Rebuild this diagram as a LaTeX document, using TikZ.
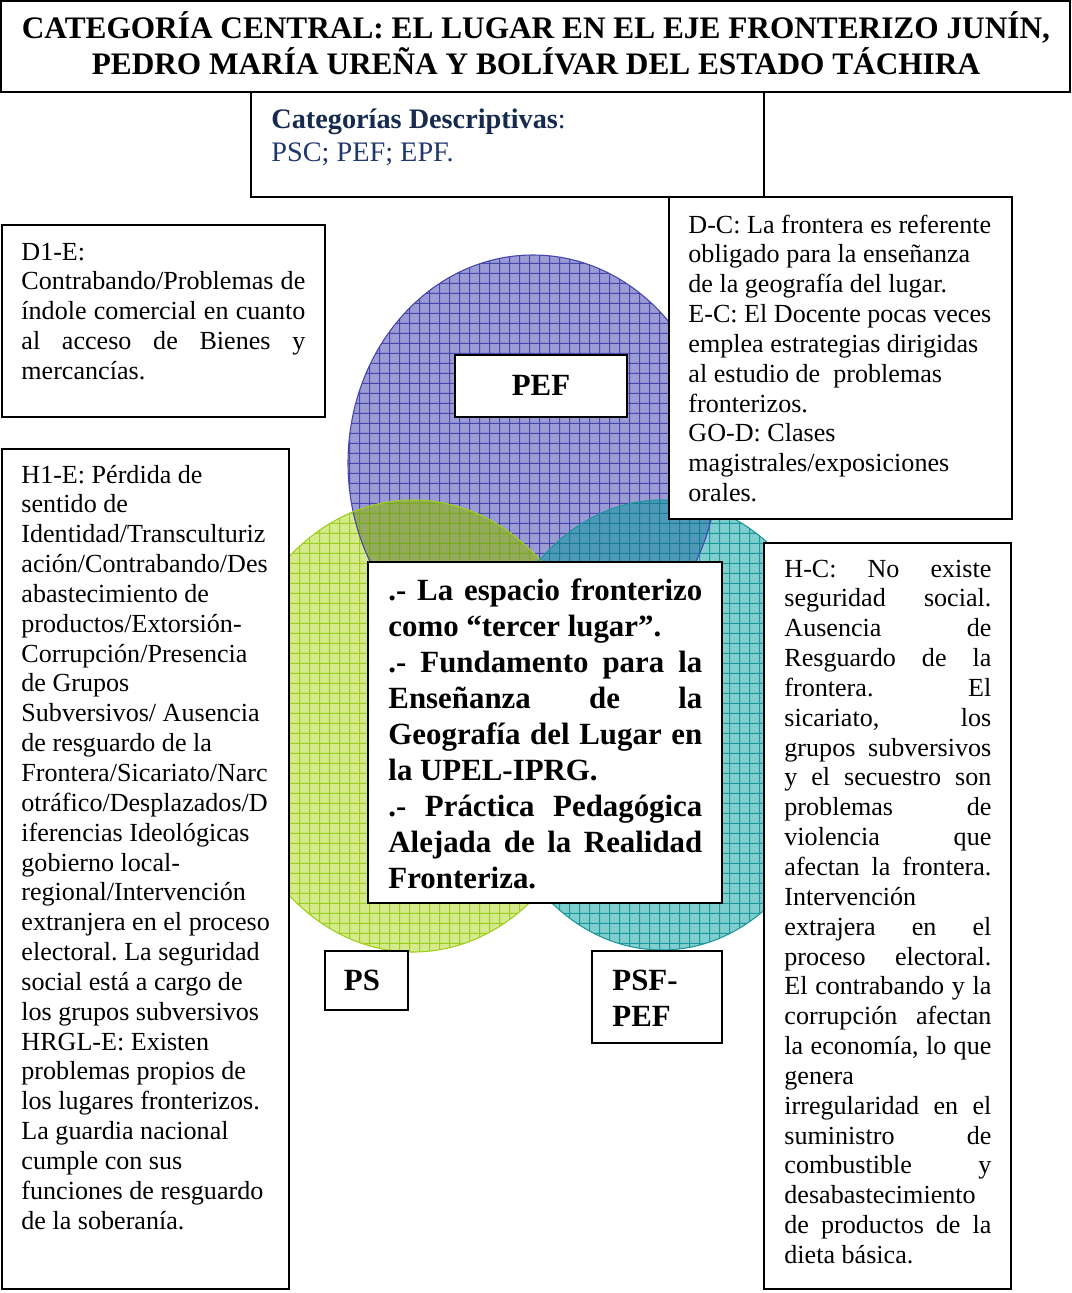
\documentclass[tikz,border=0pt]{standalone}
\usepackage{fontspec}
\setmainfont{Liberation Serif}
\usepackage{tikz}
\usetikzlibrary{patterns,fit}

% small grid used as fill of the circles
\pgfdeclarepatternformonly{wordgrid}{\pgfpointorigin}{\pgfqpoint{4.6pt}{4.6pt}}{\pgfqpoint{4.6pt}{4.6pt}}{%
  \pgfsetlinewidth{0.55pt}%
  \pgfpathmoveto{\pgfqpoint{0pt}{0.3pt}}\pgfpathlineto{\pgfqpoint{4.6pt}{0.3pt}}%
  \pgfpathmoveto{\pgfqpoint{0.3pt}{0pt}}\pgfpathlineto{\pgfqpoint{0.3pt}{4.6pt}}%
  \pgfusepath{stroke}}

\definecolor{pefblue}{RGB}{156,156,212}
\definecolor{pefline}{RGB}{70,70,172}
\definecolor{psgreen}{RGB}{212,234,140}
\definecolor{psline}{RGB}{158,206,32}
\definecolor{psfteal}{RGB}{128,206,206}
\definecolor{psfline}{RGB}{28,152,156}
\definecolor{olivemix}{RGB}{148,170,92}
\definecolor{oliveline}{RGB}{120,170,30}
\definecolor{tealmix}{RGB}{78,152,184}
\definecolor{tealmixline}{RGB}{24,124,150}
\definecolor{catnavy}{RGB}{23,43,80}
\definecolor{catblue}{RGB}{31,56,110}

\frenchspacing
\newcommand{\fixspaces}{\spaceskip=0pt\xspaceskip=0pt\relax}
\newcommand{\justline}[1]{{\fixspaces\makebox[\linewidth][s]{#1}}}

\tikzset{
    %Define style for boxes
    frame/.style={
           draw=black, line width=0.8pt,
           fill=white,
           inner sep=0pt},
    %Define style for texts
    body/.style={
           anchor=base west,
           inner sep=0pt,
           align=left,
           execute at begin node=\fixspaces,
           font=\fontsize{12}{13.73}\selectfont},
    central/.style={
           body,
           font=\bfseries\fontsize{14.2}{16.56}\selectfont},
    tagtext/.style={
           anchor=base,
           inner sep=0pt,
           font=\bfseries\fontsize{14.2}{16.56}\selectfont},
    heading/.style={
           anchor=base,
           inner sep=0pt,
           align=center,
           text width=490pt,
           execute at begin node=\fixspaces,
           font=\bfseries\fontsize{14.4}{16.56}\selectfont},
    % circles
    disk/.style 2 args={
           fill=#1,
           postaction={pattern=wordgrid, pattern color=#2}},
    pef shape/.style={x radius=185, y radius=208},
    ps shape/.style={x radius=187, y radius=226},
    psf shape/.style={x radius=180, y radius=225}
}

\begin{document}
\begin{tikzpicture}[x=0.46pt, y=-0.46pt]
\useasboundingbox (0,0) rectangle (1072,1293);

% header boxes
\node[frame, fit={(251,92) (764,197)}] (desc) {};
\node[body, font=\fontsize{13}{15.2}\selectfont, text width=220pt] (desc text) at (271,128)
  {\textcolor{catnavy}{\textbf{Categorías Descriptivas}:}\\\textcolor{catblue}{PSC; PEF; EPF.}};
\node[frame, fit={(1,1) (1070,92)}] (title) {};
\node[heading] (title text) at (536,38)
  {\mbox{CATEGORÍA CENTRAL: EL LUGAR EN EL EJE FRONTERIZO JUNÍN,}\\
   \mbox{PEDRO MARÍA UREÑA Y BOLÍVAR DEL ESTADO TÁCHIRA}};

\node[frame, fit={(2,225) (325,417)}] (d1e) {};
\node[body, text width=130.6pt] (d1e text) at (21,260)
  {D1-E:\\
   \justline{Contrabando/Problemas de}\\
   \justline{índole comercial en cuanto}\\
   \justline{al acceso de Bienes y}\\
   mercancías.};

% circles
\coordinate (pef c) at (533,463);
\coordinate (ps c) at (413,726);
\coordinate (psf c) at (662,725);
\path[disk={pefblue}{pefline}] (pef c) ellipse [pef shape];
\path[disk={psgreen}{psline}] (ps c) ellipse [ps shape];
\path[disk={psfteal}{psfline}] (psf c) ellipse [psf shape];
\begin{scope}
  \clip (pef c) ellipse [pef shape];
  \path[disk={olivemix}{oliveline}] (ps c) ellipse [ps shape];
  \path[disk={tealmix}{tealmixline}] (psf c) ellipse [psf shape];
\end{scope}
\draw[pefline, line width=.5pt] (pef c) ellipse [pef shape];
\draw[psline, line width=.5pt] (ps c) ellipse [ps shape];
\draw[psfline, line width=.5pt] (psf c) ellipse [psf shape];

% side boxes
\node[frame, fit={(669,197) (1012,519)}] (dc) {};
\node[body, text width=150pt] (dc text) at (688,233)
  {D-C: La frontera es referente\\
   obligado para la enseñanza\\
   de la geografía del lugar.\\
   E-C: El Docente pocas veces\\
   emplea estrategias dirigidas\\
   al estudio de \ problemas\\
   fronterizos.\\
   GO-D: Clases\\
   magistrales/exposiciones\\
   orales.};

\node[frame, fit={(2,449) (289,1289)}] (h1e) {};
\node[body, text width=130pt] (h1e text) at (21,483)
  {H1-E: Pérdida de\\
   sentido de\\
   Identidad/Transculturiz\\
   ación/Contrabando/Des\\
   abastecimiento de\\
   productos/Extorsión-\\
   Corrupción/Presencia\\
   de Grupos\\
   Subversivos/ Ausencia\\
   de resguardo de la\\
   Frontera/Sicariato/Narc\\
   otráfico/Desplazados/D\\
   iferencias Ideológicas\\
   gobierno local-\\
   regional/Intervención\\
   extranjera en el proceso\\
   electoral. La seguridad\\
   social está a cargo de\\
   los grupos subversivos\\
   HRGL-E: Existen\\
   problemas propios de\\
   los lugares fronterizos.\\
   La guardia nacional\\
   cumple con sus\\
   funciones de resguardo\\
   de la soberanía.};

\node[frame, fit={(764,543) (1011,1289)}] (hc) {};
\node[body, text width=95.2pt] (hc text) at (784,577)
  {\justline{H-C: No existe}\\
   \justline{seguridad social.}\\
   \justline{Ausencia de}\\
   \justline{Resguardo de la}\\
   \justline{frontera. El}\\
   \justline{sicariato, los}\\
   \justline{grupos subversivos}\\
   \justline{y el secuestro son}\\
   \justline{problemas de}\\
   \justline{violencia que}\\
   \justline{afectan la frontera.}\\
   Intervención\\
   \justline{extrajera en el}\\
   \justline{proceso electoral.}\\
   \justline{El contrabando y la}\\
   \justline{corrupción afectan}\\
   \justline{la economía, lo que}\\
   genera\\
   \justline{irregularidad en el}\\
   \justline{suministro de}\\
   \justline{combustible y}\\
   desabastecimiento\\
   \justline{de productos de la}\\
   dieta básica.};

% central box
\node[frame, fit={(368,562) (722,903)}] (core) {};
\node[central, text width=144.4pt] (core text) at (388,600)
  {\justline{.- La espacio fronterizo}\\
   como “tercer lugar”.\\
   \justline{.- Fundamento para la}\\
   \justline{Enseñanza de la}\\
   \justline{Geografía del Lugar en}\\
   la UPEL-IPRG.\\
   \justline{.- Práctica Pedagógica}\\
   \justline{Alejada de la Realidad}\\
   Fronteriza.};

% labels of the circles
\node[frame, fit={(455,355) (627,417)}] (pef) {};
\node[tagtext] (pef text) at (541,395) {PEF};
\node[frame, fit={(325,951) (408,1010)}] (ps) {};
\node[tagtext] (ps text) at (362,990) {PS};
\node[frame, fit={(592,951) (722,1043)}] (psf) {};
\node[central, text width=50pt] (psf text) at (612,990) {PSF-\\PEF};

\end{tikzpicture}
\end{document}
